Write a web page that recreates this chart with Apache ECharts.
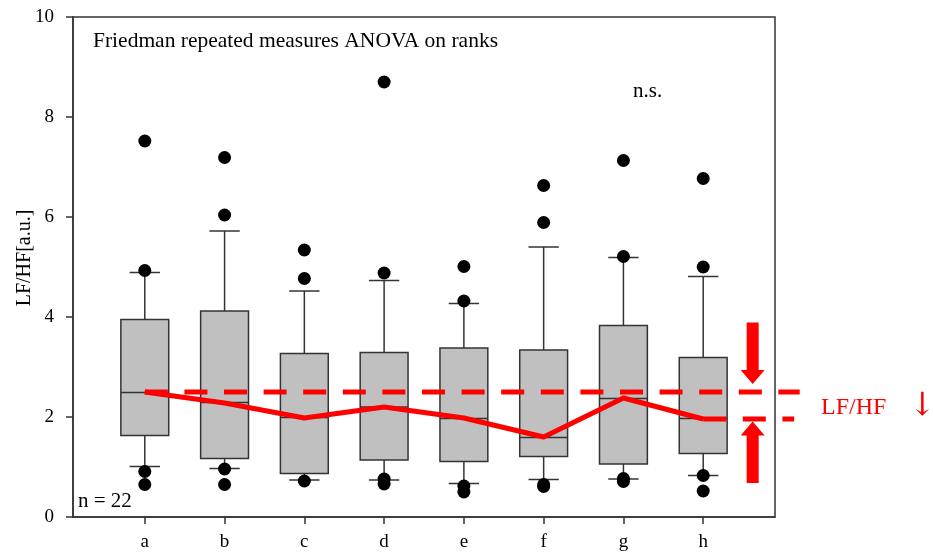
<!DOCTYPE html>
<html>
<head>
<meta charset="utf-8">
<script src="https://cdn.jsdelivr.net/npm/echarts@6/dist/echarts.min.js"></script>
<style>
html,body{margin:0;padding:0;background:#fff;}
#chart{width:933px;height:555px;}
</style>
</head>
<body>
<div id="chart"></div>
<script>
// ---- data ----
const categories = ['a', 'b', 'c', 'd', 'e', 'f', 'g', 'h'];
const whiskerLow  = [1.01, 0.97, 0.74, 0.74, 0.67, 0.75, 0.76, 0.83];
const quartile1   = [1.63, 1.17, 0.87, 1.14, 1.11, 1.21, 1.06, 1.27];
const medians     = [2.49, 2.29, 1.99, 2.20, 1.97, 1.59, 2.37, 1.97];
const quartile3   = [3.95, 4.12, 3.27, 3.29, 3.38, 3.34, 3.83, 3.19];
const whiskerHigh = [4.89, 5.72, 4.52, 4.73, 4.27, 5.40, 5.19, 4.81];
const outliers = [
  [7.52, 4.93, 0.91, 0.65],
  [7.19, 6.04, 0.96, 0.65],
  [5.34, 4.77, 0.72],
  [8.70, 4.88, 0.76, 0.66],
  [5.01, 4.32, 0.62, 0.50],
  [6.63, 5.89, 0.65, 0.61],
  [7.13, 5.21, 0.77, 0.71],
  [6.77, 5.00, 0.83, 0.52]
];
const trendLine = [2.50, 2.28, 1.98, 2.20, 1.98, 1.60, 2.38, 1.96];
const referenceLevel = 2.5;       // upper dashed line
const finalLevel = 1.96;          // lower dashed line
const yTicks = [0, 2, 4, 6, 8, 10];

// ---- build series data ----
const positions = categories.map((c, i) => i + 1);
const boxData = positions.map((x, i) => [x, whiskerLow[i], quartile1[i], medians[i], quartile3[i], whiskerHigh[i]]);
const outlierData = [];
outliers.forEach((arr, i) => arr.forEach(v => outlierData.push([positions[i], v])));
const trendData = positions.map((x, i) => [x, trendLine[i]]);
// [xStart, xEnd, level]
const dashData = [[1, 9.21, referenceLevel], [8, 9.14, finalLevel]];
const arrowData = [[8.62, 3.89, 2.66], [8.62, 0.68, 1.91]];

const serif = "'Liberation Serif', 'Times New Roman', serif";
const chart = echarts.init(document.getElementById('chart'), null, {renderer: 'canvas'});

function renderBox(params, api) {
  const x = api.value(0);
  const pLow = api.coord([x, api.value(1)]);
  const pQ1 = api.coord([x, api.value(2)]);
  const pMed = api.coord([x, api.value(3)]);
  const pQ3 = api.coord([x, api.value(4)]);
  const pHigh = api.coord([x, api.value(5)]);
  const half = api.size([0.6, 0])[0] / 2;
  const cap = api.size([0.38, 0])[0] / 2;
  const st = {stroke: '#333', lineWidth: 1.5};
  return {
    type: 'group',
    children: [
      {type: 'line', shape: {x1: pHigh[0], y1: pHigh[1], x2: pQ3[0], y2: pQ3[1]}, style: st},
      {type: 'line', shape: {x1: pQ1[0], y1: pQ1[1], x2: pLow[0], y2: pLow[1]}, style: st},
      {type: 'line', shape: {x1: pHigh[0] - cap, y1: pHigh[1], x2: pHigh[0] + cap, y2: pHigh[1]}, style: st},
      {type: 'line', shape: {x1: pLow[0] - cap, y1: pLow[1], x2: pLow[0] + cap, y2: pLow[1]}, style: st},
      {type: 'rect', shape: {x: pQ3[0] - half, y: pQ3[1], width: half * 2, height: pQ1[1] - pQ3[1]},
        style: {fill: '#c0c0c0', stroke: '#333', lineWidth: 1.5}},
      {type: 'line', shape: {x1: pMed[0] - half, y1: pMed[1], x2: pMed[0] + half, y2: pMed[1]}, style: st}
    ]
  };
}

function renderDash(params, api) {
  const a = api.coord([api.value(0), api.value(2)]);
  const b = api.coord([api.value(1), api.value(2)]);
  return {
    type: 'line',
    shape: {x1: a[0], y1: a[1], x2: b[0], y2: b[1]},
    style: {stroke: '#ff0000', lineWidth: 5, lineDash: [23, 16.6], fill: null}
  };
}

function renderArrow(params, api) {
  const x = api.value(0);
  const p0 = api.coord([x, api.value(1)]);
  const p1 = api.coord([x, api.value(2)]);
  const dir = p1[1] > p0[1] ? 1 : -1;
  const headLen = 14, shaft = 6, head = 12;
  const hs = p1[1] - dir * headLen;
  const cx = p0[0];
  return {
    type: 'polygon',
    shape: {points: [
      [cx - shaft, p0[1]], [cx + shaft, p0[1]], [cx + shaft, hs], [cx + head, hs],
      [cx, p1[1]], [cx - head, hs], [cx - shaft, hs]
    ]},
    style: {fill: '#ff0000'}
  };
}

chart.setOption({
  animation: false,
  backgroundColor: '#fff',
  grid: {left: 73, right: 158, top: 17, bottom: 38, show: true, borderColor: '#333', borderWidth: 1.5,
    backgroundColor: 'transparent', outerBoundsMode: 'none', containLabel: false},
  xAxis: {
    type: 'value', min: 0.1, max: 8.9,
    splitLine: {show: false},
    axisLine: {show: true, lineStyle: {color: '#333', width: 1.5}},
    axisTick: {show: true, length: 7, customValues: positions, lineStyle: {color: '#333', width: 1.5}},
    axisLabel: {customValues: positions, margin: 16, color: '#000', fontFamily: serif, fontSize: 19,
      formatter: v => categories[Math.round(v) - 1] || ''}
  },
  yAxis: {
    type: 'value', min: 0, max: 10, interval: 2,
    name: 'LF/HF[a.u.]', nameLocation: 'middle', nameGap: 38, nameMoveOverlap: false,
    nameTextStyle: {color: '#000', fontFamily: serif, fontSize: 20, padding: [0, 0, 0, 18]},
    splitLine: {show: false},
    axisLine: {show: true, lineStyle: {color: '#333', width: 1.5}},
    axisTick: {show: true, length: 7, lineStyle: {color: '#333', width: 1.5}},
    axisLabel: {margin: 19, color: '#000', fontFamily: serif, fontSize: 19,
      formatter: v => yTicks.indexOf(v) >= 0 ? String(v) : ''}
  },
  series: [
    {type: 'custom', name: 'boxes', renderItem: renderBox, data: boxData,
      encode: {x: 0, y: [1, 2, 3, 4, 5]}, z: 2},
    {type: 'scatter', name: 'outliers', data: outlierData, symbol: 'circle', symbolSize: 13,
      itemStyle: {color: '#000', opacity: 1}, z: 3},
    {type: 'line', name: 'median trend', data: trendData, showSymbol: false, symbol: 'none',
      lineStyle: {color: '#ff0000', width: 5}, z: 5},
    {type: 'custom', name: 'dashed levels', renderItem: renderDash, data: dashData,
      encode: {x: [0, 1], y: 2}, clip: false, z: 5},
    {type: 'custom', name: 'arrows', renderItem: renderArrow, data: arrowData,
      encode: {x: 0, y: [1, 2]}, z: 6}
  ],
  graphic: [
    {type: 'text', left: 93, top: 30, style: {text: 'Friedman repeated measures ANOVA on ranks', font: '21.5px ' + serif, fill: '#000'}},
    {type: 'text', left: 633, top: 81, style: {text: 'n.s.', font: '21px ' + serif, fill: '#000'}},
    {type: 'text', left: 78, top: 491, style: {text: 'n = 22', font: '21px ' + serif, fill: '#000'}},
    {type: 'text', left: 821, top: 396, style: {text: 'LF/HF', font: '24px ' + serif, fill: '#ff0000'}},
    {type: 'text', left: 909, top: 391, style: {text: '↓', font: '32px "DejaVu Serif", serif', fill: '#ff0000'}}
  ]
});
</script>
</body>
</html>
